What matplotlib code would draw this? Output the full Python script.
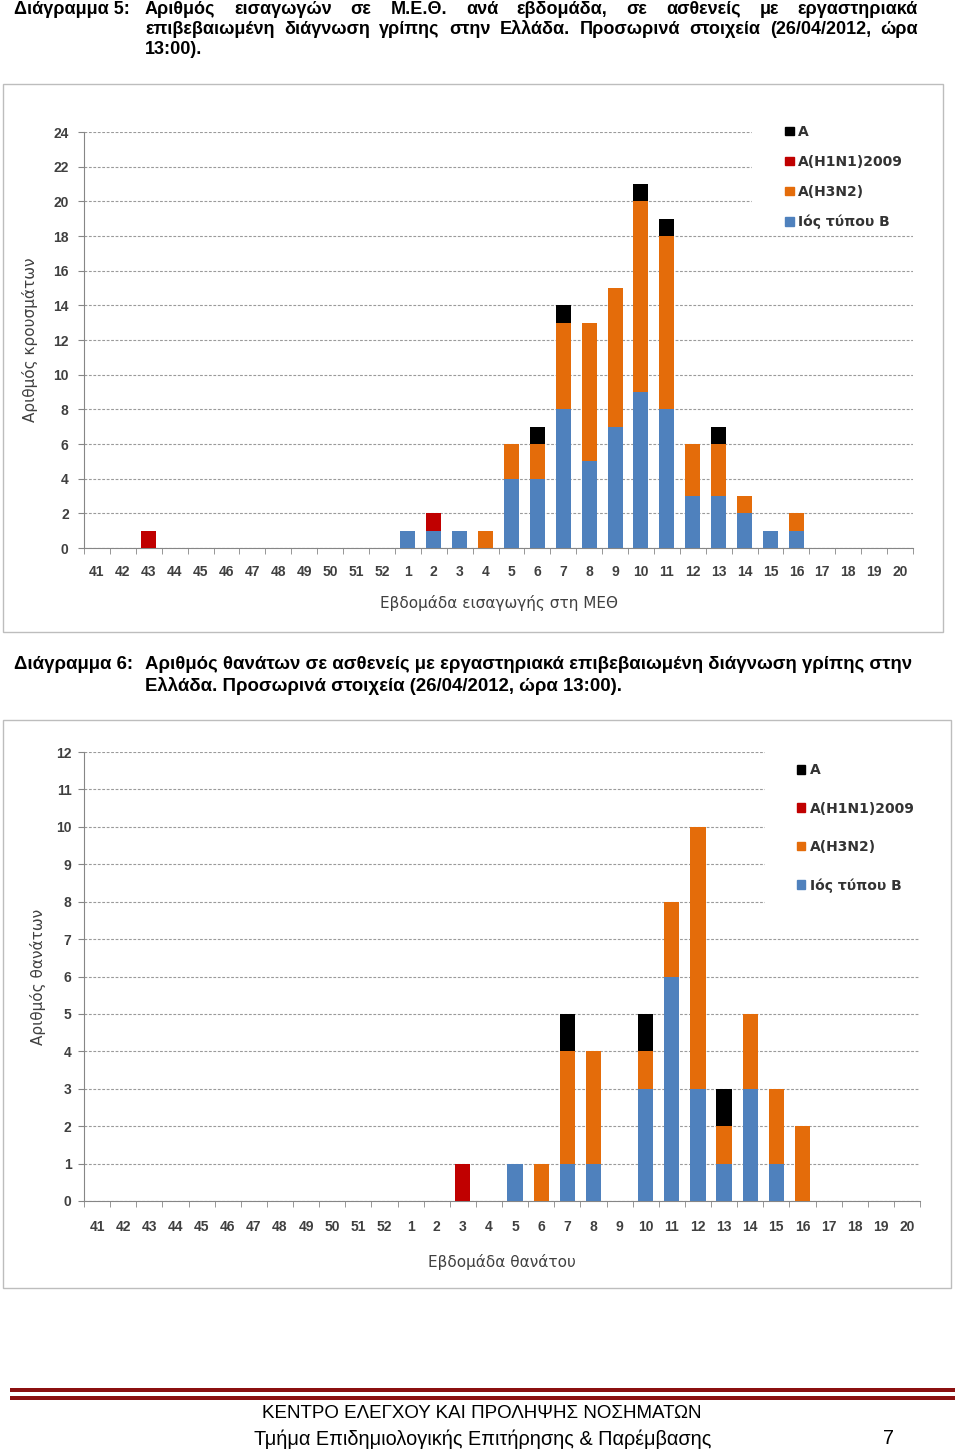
import numpy as np
import matplotlib
matplotlib.use("Agg")
import matplotlib.pyplot as plt
from matplotlib.patches import Rectangle, Patch

# Εβδομάδες 41-52 (2011) και 1-20 (2012)
weeks = [str(w) for w in list(range(41, 53)) + list(range(1, 21))]

# Διάγραμμα 5: εισαγωγές σε ΜΕΘ
icu_B = [0, 0, 0, 0, 0, 0, 0, 0, 0, 0, 0, 0,
         1, 1, 1, 0, 4, 4, 8, 5, 7, 9, 8, 3, 3, 2, 1, 1, 0, 0, 0, 0]
icu_H3N2 = [0, 0, 0, 0, 0, 0, 0, 0, 0, 0, 0, 0,
            0, 0, 0, 1, 2, 2, 5, 8, 8, 11, 10, 3, 3, 1, 0, 1, 0, 0, 0, 0]
icu_H1N1 = [0, 0, 1, 0, 0, 0, 0, 0, 0, 0, 0, 0,
            0, 1, 0, 0, 0, 0, 0, 0, 0, 0, 0, 0, 0, 0, 0, 0, 0, 0, 0, 0]
icu_A = [0, 0, 0, 0, 0, 0, 0, 0, 0, 0, 0, 0,
         0, 0, 0, 0, 0, 1, 1, 0, 0, 1, 1, 0, 1, 0, 0, 0, 0, 0, 0, 0]

# Διάγραμμα 6: θάνατοι
death_B = [0, 0, 0, 0, 0, 0, 0, 0, 0, 0, 0, 0,
           0, 0, 0, 0, 1, 0, 1, 1, 0, 3, 6, 3, 1, 3, 1, 0, 0, 0, 0, 0]
death_H3N2 = [0, 0, 0, 0, 0, 0, 0, 0, 0, 0, 0, 0,
              0, 0, 0, 0, 0, 1, 3, 3, 0, 1, 2, 7, 1, 2, 2, 2, 0, 0, 0, 0]
death_H1N1 = [0, 0, 0, 0, 0, 0, 0, 0, 0, 0, 0, 0,
              0, 0, 1, 0, 0, 0, 0, 0, 0, 0, 0, 0, 0, 0, 0, 0, 0, 0, 0, 0]
death_A = [0, 0, 0, 0, 0, 0, 0, 0, 0, 0, 0, 0,
           0, 0, 0, 0, 0, 0, 1, 0, 0, 1, 0, 0, 1, 0, 0, 0, 0, 0, 0, 0]

series_names = ["Ιός τύπου B", "A(H3N2)", "A(H1N1)2009", "A"]
colors = ["#4f81bd", "#e46c0a", "#c00000", "#000000"]

W, H = 960, 1450
fig = plt.figure(figsize=(W / 100, H / 100), dpi=100)
renderer = fig.canvas.get_renderer()

ARIAL = ["Liberation Sans", "DejaVu Sans"]


def fx(px):
    return px / W


def fy(py):
    return 1 - py / H


def justify(words, x0, x1, y, **kw):
    """Πλήρης στοίχιση λέξεων μεταξύ x0 και x1 (pixels)"""
    texts = [fig.text(0, fy(y), w, va="center", ha="left", **kw) for w in words]
    widths = [t.get_window_extent(renderer).width for t in texts]
    gap = (x1 - x0 - sum(widths)) / (len(words) - 1)
    x = x0
    for t, w in zip(texts, widths):
        t.set_x(fx(x))
        x += w + gap


def fit_size(text, width, **kw):
    """Μέγεθος γραμματοσειράς ώστε το κείμενο να έχει το δοσμένο πλάτος"""
    t = fig.text(0, 0, text, fontsize=10, **kw)
    w = t.get_window_extent(renderer).width
    t.remove()
    return 10 * width / w


def draw_chart(rect, data, ymax, ystep, ylabel, xlabel, legend_pos, leg_gap,
               ypad, xpad, ylabpad, xlabpad, mask):
    ax = fig.add_axes(rect)
    x = np.arange(len(weeks))
    bottom = np.zeros(len(weeks))
    for vals, col in zip(data, colors):
        ax.bar(x, vals, 0.58, bottom=bottom, color=col, zorder=3)
        bottom += np.array(vals)
    ax.set_xlim(-0.5, len(weeks) - 0.5)
    ax.set_ylim(0, ymax)
    ax.set_yticks(np.arange(0, ymax + 1, ystep))
    ax.set_xticks(x)
    ax.set_xticklabels(weeks)
    ax.set_xticks(np.arange(-0.5, len(weeks)), minor=True)
    ax.tick_params(axis="x", which="major", length=0, pad=xpad, labelsize=10, labelcolor="#404040")
    ax.tick_params(axis="x", which="minor", length=4, color="#868686", direction="out")
    ax.tick_params(axis="y", length=4, color="#868686", pad=ypad, labelsize=10, labelcolor="#404040")
    for lab in ax.get_xticklabels() + ax.get_yticklabels():
        lab.set_family(ARIAL)
        lab.set_weight("bold")
    ax.yaxis.grid(True, linestyle=(0, (2.5, 1.5)), color="#9a9a9a", lw=0.8, zorder=0)
    ax.set_axisbelow(True)
    for s in ["top", "right"]:
        ax.spines[s].set_visible(False)
    for s in ["left", "bottom"]:
        ax.spines[s].set_color("#868686")
    ax.set_ylabel(ylabel, fontsize=11, color="#404040", labelpad=ylabpad)
    ax.set_xlabel(xlabel, fontsize=11, color="#404040", labelpad=xlabpad)
    # η περιοχή του υπομνήματος κρύβει τις γραμμές πλέγματος
    ax.add_patch(Rectangle((mask[0], mask[1]), 1.01 - mask[0], 1.01 - mask[1],
                           transform=ax.transAxes, color="white", zorder=1, clip_on=False))
    handles = [Patch(color=c, label=n) for c, n in zip(colors[::-1], series_names[::-1])]
    leg = ax.legend(handles=handles, loc="upper left", bbox_to_anchor=legend_pos,
                    frameon=False, handlelength=0.6, handleheight=0.6, handletextpad=0.3,
                    labelspacing=leg_gap, borderpad=0, borderaxespad=0,
                    prop={"size": 10, "weight": "bold"})
    for t in leg.get_texts():
        t.set_color("#333333")
    leg.set_zorder(5)
    return ax


# Διάγραμμα 5
line5a = "Αριθμός εισαγωγών σε Μ.Ε.Θ. ανά εβδομάδα, σε ασθενείς με εργαστηριακά"
line5b = "επιβεβαιωμένη διάγνωση γρίπης στην Ελλάδα. Προσωρινά στοιχεία (26/04/2012, ώρα"
size5 = fit_size(line5b, 735, family=ARIAL, weight="bold")
cap5 = dict(family=ARIAL, fontsize=size5, weight="bold")
fig.text(fx(14), fy(9), "Διάγραμμα 5:", va="center", ha="left", **cap5)
justify(line5a.split(), 145, 918, 9, **cap5)
justify(line5b.split(), 145, 918, 29, **cap5)
fig.text(fx(145), fy(50), "13:00).", va="center", ha="left", **cap5)

fig.add_artist(Rectangle((fx(3), fy(632)), fx(940), 548 / H, transform=fig.transFigure,
                         fill=False, edgecolor="#bdbdbd", lw=1))
draw_chart([fx(84), fy(548), fx(829), 416 / H],
           [icu_B, icu_H3N2, icu_H1N1, icu_A], 24, 2,
           "Αριθμός κρουσμάτων", "Εβδομάδα εισαγωγής στη ΜΕΘ",
           (0.846, 1.017), 1.15, 7, 12, 11, 12, (0.806, 0.79))

# Διάγραμμα 6
line6 = "Αριθμός θανάτων σε ασθενείς με εργαστηριακά επιβεβαιωμένη διάγνωση γρίπης στην"
size6 = fit_size(line6, 767, family=ARIAL, weight="bold")
cap6 = dict(family=ARIAL, fontsize=size6, weight="bold", va="center", ha="left")
fig.text(fx(14), fy(665), "Διάγραμμα 6:", **cap6)
fig.text(fx(145), fy(665), line6, **cap6)
fig.text(fx(145), fy(686), "Ελλάδα. Προσωρινά στοιχεία (26/04/2012, ώρα 13:00).", **cap6)

fig.add_artist(Rectangle((fx(3), fy(1288)), fx(948), 568 / H, transform=fig.transFigure,
                         fill=False, edgecolor="#bdbdbd", lw=1))
draw_chart([fx(84), fy(1201), fx(836), 449 / H],
           [death_B, death_H3N2, death_H1N1, death_A], 12, 1,
           "Αριθμός θανάτων", "Εβδομάδα θανάτου",
           (0.853, 0.975), 1.75, 5, 14, 7, 14, (0.815, 0.625))

# Υποσέλιδο
for y in (1390, 1398):
    fig.add_artist(Rectangle((fx(10), fy(y + 2)), fx(945), 4 / H, transform=fig.transFigure,
                             color="#8b1010", lw=0))
foot1 = "ΚΕΝΤΡΟ ΕΛΕΓΧΟΥ ΚΑΙ ΠΡΟΛΗΨΗΣ ΝΟΣΗΜΑΤΩΝ"
foot2 = "Τμήμα Επιδημιολογικής Επιτήρησης & Παρέμβασης"
fig.text(fx(482), fy(1414), foot1, ha="center", va="center", family=ARIAL,
         fontsize=fit_size(foot1, 439, family=ARIAL))
size_f2 = fit_size(foot2, 456, family=ARIAL)
fig.text(fx(483), fy(1439), foot2, ha="center", va="center", family=ARIAL, fontsize=size_f2)
fig.text(fx(888), fy(1439), "7", ha="center", va="center", family=ARIAL, fontsize=size_f2)

fig.savefig("out.png", dpi=100, facecolor="white")
